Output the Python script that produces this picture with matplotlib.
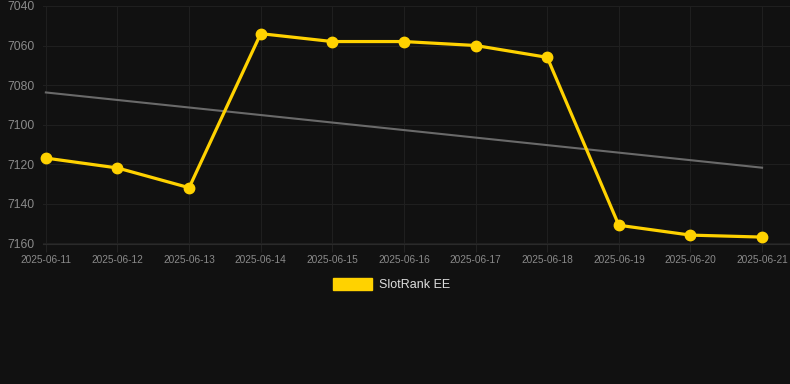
import matplotlib
matplotlib.use("Agg")
import matplotlib.pyplot as plt
import matplotlib.patches as mpatches
import numpy as np

plt.rcParams['font.family'] = ['Liberation Sans', 'DejaVu Sans']

dates = ["2025-06-11", "2025-06-12", "2025-06-13", "2025-06-14", "2025-06-15",
         "2025-06-16", "2025-06-17", "2025-06-18", "2025-06-19", "2025-06-20",
         "2025-06-21"]
ranks = [7117, 7122, 7132, 7054, 7058, 7058, 7060, 7066, 7151, 7156, 7157]
yticks = [7040, 7060, 7080, 7100, 7120, 7140, 7160]
series_name = "SlotRank EE"

bg = "#111111"
W, H = 790, 384
fig = plt.figure(figsize=(W / 100, H / 100), dpi=100, facecolor=bg)
ax = fig.add_axes([43 / W, 1 - 244 / H, (W - 43) / W, (244 - 6) / H])
ax.set_facecolor(bg)

x = np.arange(len(dates))
# trend line (least squares fit of the series)
coef = np.polyfit(x, ranks, 1)
ax.plot([x[0], x[-1]], np.polyval(coef, [x[0], x[-1]]), color="#6a6a6a", lw=1.5, zorder=2)

ax.plot(x, ranks, color="#FFD200", lw=2.3, marker="o", markersize=7.5, zorder=3,
        solid_joinstyle="round", clip_on=False)

ax.set_xlim(-0.04, 10.39)
ax.set_ylim(7160.5, 7040)
ax.set_yticks(yticks)
ax.set_xticks(x)
ax.set_xticklabels(dates)
ax.grid(True, color="#1f1f1f", lw=0.8)
ax.tick_params(axis="x", colors="#222222", labelcolor="#8a8a8a", labelsize=7.3, length=6, pad=2)
ax.tick_params(axis="y", length=0, labelcolor="#8a8a8a", labelsize=8.8, pad=6)
for s in ["top", "right", "left"]:
    ax.spines[s].set_visible(False)
ax.spines["bottom"].set_color("#2a2a2a")

# legend
fig.patches.append(mpatches.Rectangle((333 / W, 1 - 290 / H), 39 / W, 12 / H,
                                      transform=fig.transFigure, color="#FFD200"))
fig.text(379 / W, 1 - 284.5 / H, series_name, color="#dddddd", fontsize=9, va="center")

fig.savefig("out.png", dpi=100, facecolor=bg)
